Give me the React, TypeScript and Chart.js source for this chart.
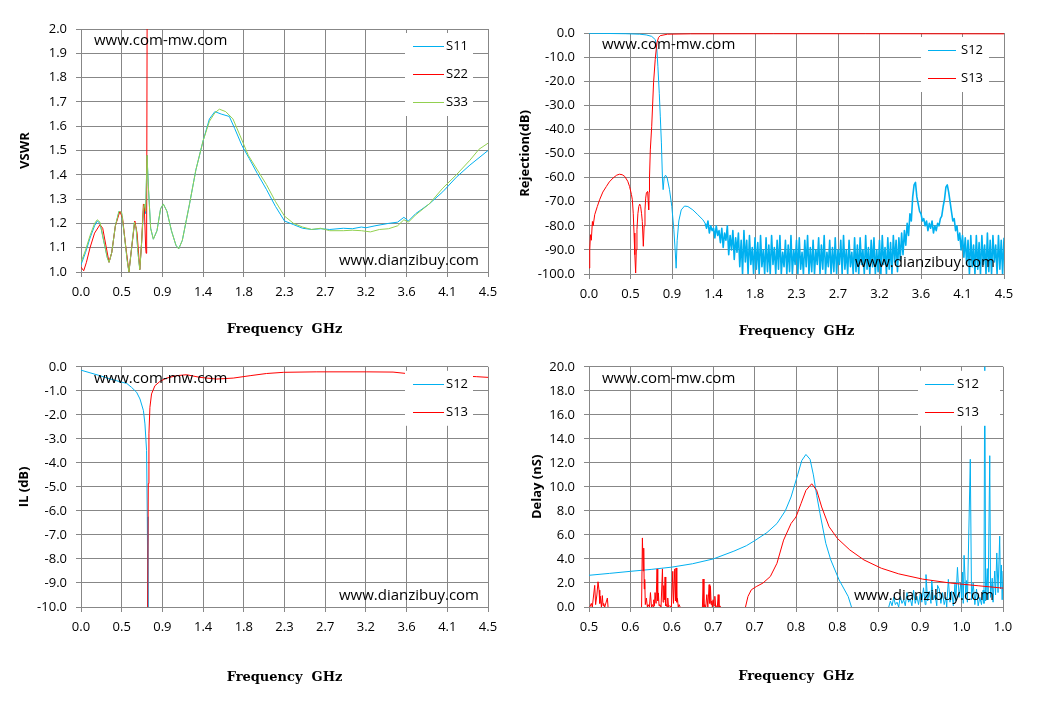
import { useEffect, useRef } from "react";
import { Chart, registerables } from "chart.js";

Chart.register(...registerables);

Chart.defaults.font.family = "'Open Sans', sans-serif";
Chart.defaults.font.size = 13;
Chart.defaults.color = "#000";

const BLUE = "#00B0F0";
const RED = "#FF0000";
const GREEN = "#92D050";
const GRID = "#878787";

type Pt = [number, number | null];

// x axis ticks (Excel shows 0.45 GHz steps rounded to one decimal)
const freqTicks = [0, 0.45, 0.9, 1.35, 1.8, 2.25, 2.7, 3.15, 3.6, 4.05, 4.5];
const freqLabels = ["0.0", "0.5", "0.9", "1.4", "1.8", "2.3", "2.7", "3.2", "3.6", "4.1", "4.5"];
const delayTicks = [0.5, 0.55, 0.6, 0.65, 0.7, 0.75, 0.8, 0.85, 0.9, 0.95, 1.0];
const delayLabels = ["0.5", "0.6", "0.6", "0.7", "0.7", "0.8", "0.8", "0.9", "0.9", "1.0", "1.0"];

// ---- VSWR ----
const vswrS11: Pt[] = [
  [0.0, 1.03], [0.05, 1.08], [0.1, 1.14], [0.15, 1.19], [0.18, 1.21], [0.21, 1.2], [0.25, 1.13],
  [0.29, 1.06], [0.31, 1.04], [0.34, 1.08], [0.38, 1.19], [0.42, 1.25], [0.45, 1.24], [0.48, 1.15],
  [0.51, 1.05], [0.53, 1.0], [0.56, 1.1], [0.59, 1.2], [0.61, 1.18], [0.63, 1.08], [0.65, 1.01],
  [0.67, 1.12], [0.69, 1.25], [0.7, 1.27], [0.715, 1.24], [0.73, 1.48], [0.745, 1.35], [0.77, 1.18],
  [0.8, 1.135], [0.84, 1.17], [0.88, 1.26], [0.91, 1.28], [0.95, 1.25], [1.0, 1.17], [1.05, 1.11],
  [1.08, 1.095], [1.12, 1.13], [1.2, 1.28], [1.27, 1.42], [1.35, 1.54], [1.42, 1.63], [1.48, 1.66],
  [1.55, 1.65], [1.64, 1.64], [1.7, 1.59], [1.78, 1.52], [1.86, 1.467], [1.95, 1.405], [2.05, 1.34],
  [2.15, 1.27], [2.25, 1.21], [2.35, 1.195], [2.45, 1.18], [2.55, 1.175], [2.65, 1.178], [2.75, 1.175],
  [2.9, 1.18], [3.0, 1.178], [3.1, 1.185], [3.15, 1.182], [3.25, 1.19], [3.4, 1.2], [3.5, 1.205],
  [3.57, 1.225], [3.62, 1.21], [3.7, 1.24], [3.85, 1.28], [4.0, 1.33], [4.15, 1.39], [4.3, 1.44], [4.5, 1.5],
];
const vswrS22: Pt[] = [
  [0.0, 1.02], [0.03, 1.005], [0.06, 1.04], [0.1, 1.1], [0.15, 1.16], [0.21, 1.195], [0.24, 1.18],
  [0.28, 1.1], [0.31, 1.04], [0.34, 1.08], [0.38, 1.19], [0.43, 1.25], [0.46, 1.22], [0.49, 1.12],
  [0.53, 1.0], [0.56, 1.1], [0.595, 1.21], [0.62, 1.16], [0.65, 1.01], [0.67, 1.12], [0.69, 1.28],
  [0.7, 1.27], [0.715, 1.1], [0.72, 1.077], [0.726, 1.2], [0.732, 2.2], [0.74, 3.5],
];
const vswrS33: Pt[] = [
  [0.0, 1.04], [0.05, 1.09], [0.1, 1.15], [0.15, 1.2], [0.18, 1.215], [0.21, 1.205], [0.25, 1.13],
  [0.29, 1.06], [0.31, 1.04], [0.34, 1.08], [0.38, 1.19], [0.42, 1.25], [0.45, 1.245], [0.48, 1.15],
  [0.51, 1.05], [0.53, 1.0], [0.56, 1.1], [0.59, 1.205], [0.61, 1.18], [0.63, 1.08], [0.65, 1.01],
  [0.67, 1.12], [0.69, 1.26], [0.7, 1.28], [0.715, 1.25], [0.73, 1.48], [0.745, 1.35], [0.77, 1.18],
  [0.8, 1.135], [0.84, 1.17], [0.88, 1.26], [0.91, 1.28], [0.95, 1.25], [1.0, 1.17], [1.05, 1.11],
  [1.08, 1.095], [1.12, 1.13], [1.2, 1.28], [1.27, 1.42], [1.35, 1.54], [1.42, 1.62], [1.48, 1.655],
  [1.53, 1.67], [1.6, 1.66], [1.68, 1.63], [1.76, 1.56], [1.85, 1.48], [1.95, 1.42], [2.05, 1.36],
  [2.15, 1.29], [2.25, 1.23], [2.35, 1.2], [2.45, 1.185], [2.55, 1.175], [2.65, 1.18], [2.75, 1.17],
  [2.9, 1.17], [3.0, 1.172], [3.1, 1.17], [3.2, 1.165], [3.3, 1.175], [3.4, 1.178], [3.5, 1.19],
  [3.57, 1.215], [3.62, 1.205], [3.7, 1.235], [3.85, 1.28], [4.0, 1.345], [4.15, 1.4], [4.3, 1.46],
  [4.4, 1.505], [4.5, 1.53],
];

// ---- Rejection ----
const rejS12: Pt[] = [
  [0.0, -0.1], [0.2, -0.2], [0.4, -0.3], [0.55, -0.5], [0.62, -0.8], [0.68, -1.4], [0.72, -2.8],
  [0.736, -6.9], [0.747, -13.8], [0.762, -25], [0.773, -34.5], [0.785, -45.6], [0.797, -61],
  [0.804, -65], [0.815, -60], [0.83, -59], [0.847, -60], [0.873, -65], [0.898, -72], [0.92, -81.6],
  [0.934, -90], [0.945, -97.6], [0.956, -86], [0.974, -78], [1.0, -73.4], [1.036, -71.8],
  [1.072, -72], [1.126, -73.4], [1.18, -75.4], [1.235, -77.5],
];
// measured trace above 1.26 GHz, one reading every 15 MHz
const rejNoiseStart = 1.26;
const rejNoiseStep = 0.015;
const rejS12Noise = [
  -79, -81, -78, -83, -80, -82, -81, -85, -80, -84,
  -82, -87, -81, -89, -83, -86, -80, -92, -84, -90,
  -82, -94, -85, -91, -83, -97, -86, -100, -82, -95,
  -86, -100, -84, -96, -89, -100, -85, -98, -87, -100,
  -84, -97, -90, -100, -85, -99, -88, -100, -84, -96,
  -89, -100, -86, -98, -84, -100, -91, -97, -86, -100,
  -88, -99, -84, -100, -90, -96, -86, -100, -85, -98,
  -91, -100, -86, -97, -84, -100, -89, -99, -86, -100,
  -90, -96, -85, -100, -88, -98, -84, -100, -91, -97,
  -86, -100, -89, -99, -85, -100, -90, -96, -86, -100,
  -84, -98, -90, -100, -86, -97, -91, -100, -85, -99,
  -88, -100, -85, -96, -90, -100, -84, -98, -89, -100,
  -86, -97, -85, -100, -90, -99, -86, -100, -84, -96,
  -89, -100, -85, -98, -87, -100, -84, -95, -86, -99,
  -85, -94, -83, -92, -82, -88, -79, -84, -75, -78,
  -68, -63, -62, -68, -71, -74, -75, -78, -77, -80,
  -78, -82, -79, -81, -78, -83, -80, -82, -79, -80,
  -77, -76, -72, -69, -64, -63, -66, -70, -74, -78,
  -77, -82, -80, -86, -83, -90, -84, -93, -85, -96,
  -86, -100, -84, -97, -88, -100, -84, -98, -87, -100,
  -84, -96, -88, -100, -83, -99, -86, -100, -84, -95,
  -88, -100, -84, -98, -86, -100, -85,
];
const rejS13: Pt[] = [
  [0.0, -97.5], [0.008, -90], [0.016, -83.7], [0.025, -86], [0.037, -78.2], [0.045, -80],
  [0.062, -75.4], [0.09, -72], [0.115, -69.2], [0.15, -66], [0.188, -63.7], [0.22, -61.8],
  [0.26, -60.2], [0.3, -59], [0.33, -58.6], [0.36, -58.8], [0.387, -59.5], [0.42, -61.5],
  [0.44, -63.7], [0.46, -67], [0.47, -69.2], [0.48, -75], [0.488, -83], [0.497, -92],
  [0.506, -99.6], [0.513, -90], [0.52, -81.6], [0.53, -75], [0.54, -72], [0.55, -71], [0.56, -72],
  [0.57, -75], [0.578, -78.2], [0.589, -88.5], [0.598, -80], [0.607, -73.4], [0.615, -68.5],
  [0.622, -66.4], [0.636, -65.7], [0.642, -70], [0.647, -73.4], [0.652, -66], [0.656, -60],
  [0.665, -48.5], [0.68, -38.7], [0.7, -20.7], [0.718, -11], [0.736, -4.1], [0.755, -1.8],
  [0.773, -1.1], [0.85, -0.5], [1.1, -0.35], [2.0, -0.3], [3.0, -0.3], [4.5, -0.35],
];

// ---- Insertion loss ----
const ilS12: Pt[] = [
  [0.0, -0.14], [0.1, -0.25], [0.21, -0.37], [0.3, -0.48], [0.394, -0.58], [0.45, -0.64],
  [0.505, -0.69], [0.56, -0.86], [0.615, -1.06], [0.652, -1.34], [0.69, -1.82], [0.707, -2.38],
  [0.725, -3.48], [0.733, -6.24], [0.74, -10.0], [0.75, -15],
];
const ilS13: Pt[] = [
  [0.728, -20], [0.737, -10], [0.744, -4.86], [0.751, -2.79], [0.762, -1.69], [0.78, -1.13],
  [0.817, -0.79], [0.872, -0.61], [0.946, -0.47], [1.057, -0.37], [1.167, -0.33], [1.315, -0.44],
  [1.5, -0.51], [1.683, -0.47], [1.87, -0.37], [2.05, -0.28], [2.24, -0.23], [2.6, -0.21],
  [3.16, -0.21], [3.45, -0.22], [3.6, -0.28], [3.8, -0.32], [4.1, -0.37], [4.37, -0.41], [4.5, -0.44],
];

// ---- Group delay ----
const delayS12: Pt[] = [
  [0.5, 2.64], [0.525, 2.8], [0.55, 2.97], [0.575, 3.13], [0.6, 3.32], [0.625, 3.6], [0.65, 4.0],
  [0.675, 4.65], [0.69, 5.1], [0.7, 5.52], [0.715, 6.2], [0.727, 6.95], [0.737, 8.0], [0.744, 9.16],
  [0.752, 11.0], [0.757, 12.2], [0.762, 12.7], [0.767, 12.3], [0.771, 11.0], [0.775, 9.3],
  [0.779, 7.78], [0.786, 5.3], [0.792, 3.92], [0.802, 2.26], [0.813, 0.88], [0.817, 0],
  [0.84, null],
  [0.862, 0], [0.864, 0.5], [0.866, 0.1], [0.868, 0.8], [0.87, 0.2], [0.872, 0.4], [0.874, 0],
  [0.876, 0.9], [0.878, 0.3], [0.88, 0.6], [0.882, 0.1], [0.884, 1.2], [0.886, 0.4], [0.888, 0.7],
  [0.89, 0.1], [0.892, 1.4], [0.894, 0.3], [0.896, 0.9], [0.898, 0.2], [0.9, 1.1], [0.902, 0.4],
  [0.904, 1.6], [0.906, 0.2], [0.907, 2.7], [0.909, 0.5], [0.911, 1.3], [0.913, 0.3], [0.914, 2.2],
  [0.916, 0.6], [0.918, 1.0], [0.92, 0.1], [0.921, 1.8], [0.923, 1.5], [0.925, 0.3], [0.927, 1.2],
  [0.929, 0.2], [0.931, 0.8], [0.932, 0], [0.934, 2.3], [0.936, 0.4], [0.938, 1.3], [0.94, 0.1],
  [0.942, 1.9], [0.943, 0.5], [0.945, 3.3], [0.947, 0.8], [0.949, 2.0], [0.95, 0.6], [0.951, 2.9],
  [0.952, 0.3], [0.953, 4.3], [0.955, 1.0], [0.956, 2.2], [0.957, 0.4], [0.9605, 12.3], [0.962, 0.6],
  [0.964, 2.0], [0.966, 0.2], [0.968, 1.5], [0.97, 0.1], [0.972, 0.8], [0.974, 0.2], [0.976, 1.4],
  [0.977, 0.3], [0.978, 22], [0.979, 0.5], [0.981, 3.2], [0.982, 0.6], [0.984, 12.6], [0.985, 0.8],
  [0.987, 2.4], [0.988, 0.4], [0.99, 3.0], [0.991, 1.0], [0.9925, 4.5], [0.994, 1.2], [0.996, 5.9],
  [0.997, 1.5], [0.998, 3.5], [0.999, 0.6], [1.0, 3.0],
];
const delayS13: Pt[] = [
  [0.501, 0], [0.5028, 0.3], [0.504, 0], [0.5069, 1.8], [0.508, 0.2], [0.5095, 1.0], [0.5109, 2.1],
  [0.5121, 1.4], [0.513, 0.3], [0.5137, 0.9], [0.515, 0], [0.5161, 0.95], [0.517, 0.1], [0.5177, 0.3],
  [0.519, 0], [0.5222, 0.75], [0.523, 0],
  [0.54, null],
  [0.5635, 0], [0.5645, 5.75], [0.5655, 3.0], [0.5661, 4.9], [0.5667, 1.5], [0.5673, 2.3], [0.568, 0.2],
  [0.5693, 0.75], [0.5705, 0], [0.5713, 0.2], [0.573, 0], [0.5742, 1.2], [0.5755, 0], [0.5766, 0.2],
  [0.5775, 0], [0.5782, 0.6], [0.579, 0.1], [0.5798, 1.2], [0.581, 0.3], [0.5822, 3.17], [0.583, 0.5],
  [0.5838, 1.17], [0.5846, 0.1], [0.5854, 0.2], [0.587, 0], [0.5887, 3.17], [0.5895, 0.4], [0.5903, 1.78],
  [0.591, 0.6], [0.5919, 2.5], [0.5927, 0.1], [0.5935, 0.2], [0.5943, 0], [0.5951, 0.75], [0.596, 0],
  [0.5975, 0.1], [0.5995, 0], [0.6012, 2.97], [0.602, 0.3], [0.6036, 3.17], [0.6044, 0.5], [0.6052, 3.25],
  [0.606, 0.4], [0.6068, 0.72], [0.6078, 0], [0.6088, 0.2], [0.61, 0],
  [0.625, null],
  [0.637, 0], [0.6378, 2.33], [0.6388, 0], [0.6398, 0.2], [0.641, 0], [0.6423, 1.03], [0.6435, 0],
  [0.6451, 1.86], [0.6459, 0.3], [0.6467, 1.72], [0.6475, 0.2], [0.6483, 0.5], [0.649, 0], [0.6499, 0.6],
  [0.651, 0.1], [0.652, 0.89], [0.653, 0], [0.654, 0.1], [0.655, 0], [0.656, 1.03], [0.657, 0],
  [0.658, 0.1], [0.659, 0],
  [0.675, null],
  [0.689, 0], [0.692, 0.88], [0.696, 1.43], [0.702, 1.7], [0.71, 1.99], [0.719, 2.54], [0.727, 3.64],
  [0.735, 5.57], [0.744, 6.95], [0.75, 7.5], [0.756, 8.6], [0.762, 9.71], [0.769, 10.26], [0.775, 9.71],
  [0.781, 8.33], [0.79, 6.68], [0.8, 5.71], [0.815, 4.75], [0.832, 3.92], [0.853, 3.23], [0.874, 2.76],
  [0.903, 2.32], [0.937, 1.99], [0.97, 1.77], [1.0, 1.57],
];

interface Series {
  label: string;
  color: string;
  points: { x: number; y: number | null }[];
  noiseFrom?: number; // from this frequency on the trace is drawn a little heavier
}

interface LegendSpot {
  boxL: number;
  boxR: number;
  lineL: number;
  lineR: number;
  textX: number;
}

interface PanelSpec {
  left: number;
  top: number;
  width: number;
  height: number;
  padTop: number;
  padRight: number;
  yWidth: number;
  xHeight: number;
  xTitlePad: number;
  yTitlePad: number;
  yTitle: string;
  xMin: number;
  xMax: number;
  xTicks: number[];
  xLabels: string[];
  yMin: number;
  yMax: number;
  yStep: number;
  series: Series[];
  legend: LegendSpot;
}

const toXY = (pts: Pt[]) => pts.map(([x, y]) => ({ x, y }));

const rejBlue = [
  ...toXY(rejS12),
  ...rejS12Noise.map((v, i) => ({ x: rejNoiseStart + i * rejNoiseStep, y: v })),
];

const legendA: LegendSpot = { boxL: 83, boxR: 15, lineL: 75, lineR: 44, textX: 42 };
const legendB: LegendSpot = { boxL: 83, boxR: 15, lineL: 76, lineR: 48, textX: 43 };
const legendC: LegendSpot = { boxL: 85, boxR: 3, lineL: 78, lineR: 49, textX: 46 };

const panels: PanelSpec[] = [
  {
    left: 0, top: 0, width: 505, height: 350, padTop: 29, padRight: 17, yWidth: 81, xHeight: 78,
    xTitlePad: 13, yTitlePad: 17, yTitle: "VSWR",
    xMin: 0, xMax: 4.5, xTicks: freqTicks, xLabels: freqLabels, yMin: 1, yMax: 2, yStep: 0.1,
    series: [
      { label: "S11", color: BLUE, points: toXY(vswrS11) },
      { label: "S22", color: RED, points: toXY(vswrS22) },
      { label: "S33", color: GREEN, points: toXY(vswrS33) },
    ],
    legend: legendA,
  },
  {
    left: 505, top: 0, width: 552, height: 350, padTop: 33, padRight: 53, yWidth: 84, xHeight: 76,
    xTitlePad: 11, yTitlePad: 12, yTitle: "Rejection(dB)",
    xMin: 0, xMax: 4.5, xTicks: freqTicks, xLabels: freqLabels, yMin: -100, yMax: 0, yStep: 10,
    series: [
      { label: "S12", color: BLUE, points: rejBlue, noiseFrom: 1.25 },
      { label: "S13", color: RED, points: toXY(rejS13) },
    ],
    legend: legendB,
  },
  {
    left: 0, top: 350, width: 505, height: 371, padTop: 16, padRight: 17, yWidth: 81, xHeight: 114,
    xTitlePad: 36, yTitlePad: 16, yTitle: "IL (dB)",
    xMin: 0, xMax: 4.5, xTicks: freqTicks, xLabels: freqLabels, yMin: -10, yMax: 0, yStep: 1,
    series: [
      { label: "S12", color: BLUE, points: toXY(ilS12) },
      { label: "S13", color: RED, points: toXY(ilS13) },
    ],
    legend: legendA,
  },
  {
    left: 505, top: 350, width: 552, height: 371, padTop: 16, padRight: 54, yWidth: 84, xHeight: 114,
    xTitlePad: 37, yTitlePad: 24, yTitle: "Delay (nS)",
    xMin: 0.5, xMax: 1.0, xTicks: delayTicks, xLabels: delayLabels, yMin: 0, yMax: 20, yStep: 2,
    series: [
      { label: "S12", color: BLUE, points: toXY(delayS12) },
      { label: "S13", color: RED, points: toXY(delayS13) },
    ],
    legend: legendC,
  },
];

const fmt1 = (v: number) => (Math.abs(v) < 1e-9 ? 0 : v).toFixed(1);

function makeOverlay(spec: PanelSpec) {
  return {
    id: "overlay",
    afterDatasetsDraw(chart: Chart) {
      const { ctx, chartArea: a } = chart;
      const lg = spec.legend;
      ctx.save();
      const rowY = (i: number) => a.top + 17 + 28 * i;
      const boxTop = a.top + 4;
      const boxBottom = rowY(spec.series.length - 1) + 14;
      ctx.fillStyle = "#fff";
      ctx.fillRect(a.right - lg.boxL, boxTop, lg.boxL - lg.boxR, boxBottom - boxTop);
      ctx.font = "13px 'Open Sans'";
      ctx.textBaseline = "middle";
      ctx.textAlign = "left";
      spec.series.forEach((s, i) => {
        const y = Math.round(rowY(i)) + 0.5;
        ctx.strokeStyle = s.color;
        ctx.lineWidth = 1;
        ctx.beginPath();
        ctx.moveTo(a.right - lg.lineL, y);
        ctx.lineTo(a.right - lg.lineR, y);
        ctx.stroke();
        ctx.fillStyle = "#000";
        ctx.fillText(s.label, a.right - lg.textX, rowY(i));
      });
      // site marks
      ctx.font = "15px 'Open Sans'";
      ctx.fillStyle = "#000";
      ctx.fillText("www.com-mw.com", a.left + 13, a.top + 12);
      ctx.textAlign = "right";
      ctx.fillText("www.dianzibuy.com", a.right - 9, a.bottom - 11);
      ctx.restore();
    },
  };
}

function Panel({ spec }: { spec: PanelSpec }) {
  const canvasRef = useRef<HTMLCanvasElement>(null);

  useEffect(() => {
    if (!canvasRef.current) return;
    const n = spec.series.length;
    const chart = new Chart(canvasRef.current, {
      type: "line",
      data: {
        datasets: spec.series.map((s, i) => ({
          label: s.label,
          data: s.points,
          borderColor: s.color,
          backgroundColor: s.color,
          borderWidth: 1,
          borderJoinStyle: "round",
          pointRadius: 0,
          tension: 0,
          fill: false,
          spanGaps: false,
          order: n - i, // later series on top, like the source
          segment: {
            borderWidth: (c: any) =>
              s.noiseFrom !== undefined && c.p0.parsed.x >= s.noiseFrom ? 1.6 : 1,
          },
        })),
      },
      options: {
        responsive: false,
        animation: false,
        events: [],
        layout: { padding: { top: spec.padTop, right: spec.padRight, left: 0, bottom: 0 } },
        plugins: { legend: { display: false }, tooltip: { enabled: false } },
        scales: {
          x: {
            type: "linear",
            min: spec.xMin,
            max: spec.xMax,
            afterBuildTicks: (scale: any) => {
              scale.ticks = spec.xTicks.map((value) => ({ value }));
            },
            afterFit: (scale: any) => {
              scale.height = spec.xHeight;
            },
            ticks: {
              autoSkip: false,
              maxRotation: 0,
              padding: 7,
              color: "#000",
              font: { size: 13 },
              callback: (_v: any, i: number) => spec.xLabels[i],
            },
            grid: { color: GRID, tickLength: 5, drawTicks: true },
            border: { color: GRID },
            title: {
              display: true,
              text: "Frequency  GHz",
              color: "#000",
              font: { family: "'DejaVu Serif', serif", size: 13, weight: "bold" },
              padding: { top: 0, bottom: spec.xTitlePad },
            },
          },
          y: {
            type: "linear",
            min: spec.yMin,
            max: spec.yMax,
            afterFit: (scale: any) => {
              scale.width = spec.yWidth;
            },
            ticks: {
              stepSize: spec.yStep,
              padding: 9,
              color: "#000",
              font: { size: 13 },
              callback: (v: any) => fmt1(Number(v)),
            },
            grid: { color: GRID, tickLength: 5, drawTicks: true },
            border: { color: GRID },
            title: {
              display: true,
              text: spec.yTitle,
              color: "#000",
              font: { family: "'Open Sans', sans-serif", size: 13, weight: "bold" },
              padding: { top: spec.yTitlePad, bottom: 0 },
            },
          },
        },
      },
      plugins: [makeOverlay(spec)],
    } as any);

    return () => chart.destroy();
  }, [spec]);

  return (
    <canvas
      ref={canvasRef}
      width={spec.width}
      height={spec.height}
      style={{
        position: "absolute",
        left: spec.left,
        top: spec.top,
        width: spec.width,
        height: spec.height,
      }}
    />
  );
}

export default function App() {
  return (
    <div
      style={{
        position: "absolute",
        left: 0,
        top: 0,
        width: 1057,
        height: 721,
        background: "#fff",
        overflow: "hidden",
      }}
    >
      {panels.map((p, i) => (
        <Panel key={i} spec={p} />
      ))}
    </div>
  );
}
